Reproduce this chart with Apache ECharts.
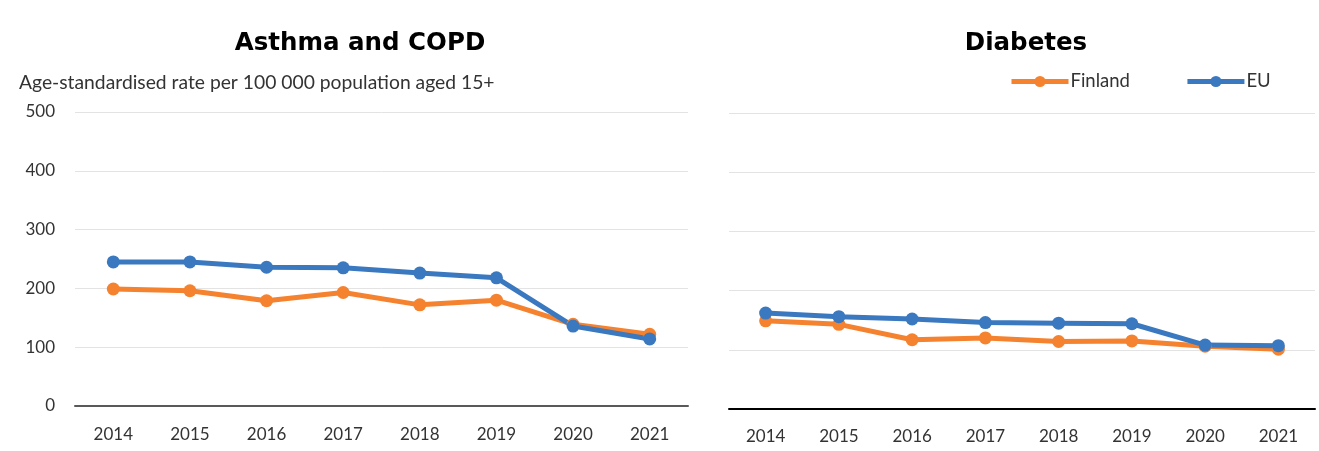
<!DOCTYPE html>
<html>
<head>
<meta charset="utf-8">
<script src="https://cdn.jsdelivr.net/npm/echarts@6/dist/echarts.min.js"></script>
<style>
  html, body { margin: 0; padding: 0; background: #fff; }
  #chart { width: 1319px; height: 451px; }
</style>
</head>
<body>
<div id="chart"></div>
<script>
var years = ['2014', '2015', '2016', '2017', '2018', '2019', '2020', '2021'];
var yTicks = [0, 100, 200, 300, 400, 500];

// Asthma and COPD
var copdFinland = [199, 196, 179, 193, 172, 180, 139, 122];
var copdEU = [245, 245, 236, 235, 226, 218, 136, 114];

// Diabetes
var diabFinland = [149, 143, 117, 120, 114, 115, 106, 101];
var diabEU = [162, 156, 152, 146, 145, 144, 108, 107];

var orange = '#F5822F';
var blue = '#3A78BF';
var font = 'Lato';
var titleFont = 'DejaVu Sans';

function line(name, color, data, xi) {
  return {
    name: name,
    type: 'line',
    xAxisIndex: xi,
    yAxisIndex: xi,
    data: data,
    symbol: 'circle',
    symbolSize: 13,
    lineStyle: { width: 5, color: color },
    itemStyle: { color: color },
    emphasis: { disabled: true },
    animation: false
  };
}

var chartDom = document.getElementById('chart');
var myChart = echarts.init(chartDom);
var option = {
  backgroundColor: '#fff',
  textStyle: { fontFamily: font },
  title: [{
    text: 'Asthma and COPD',
    left: 355, top: 26, textAlign: 'center',
    textStyle: { fontSize: 24.5, fontWeight: 'bold', color: '#000', fontFamily: titleFont }
  }, {
    text: 'Diabetes',
    left: 1021, top: 26, textAlign: 'center',
    textStyle: { fontSize: 24.5, fontWeight: 'bold', color: '#000', fontFamily: titleFont }
  }, {
    text: 'Age-standardised rate per 100 000 population aged 15+',
    left: 14, top: 68,
    textStyle: { fontSize: 19.3, fontWeight: 'normal', color: '#333', fontFamily: font }
  }],
  legend: {
    data: ['Finland', 'EU'],
    left: 1004, top: 67,
    itemWidth: 57, itemHeight: 14, itemGap: 55,
    lineStyle: { width: 5 },
    itemStyle: { borderWidth: 0 },
    textStyle: { fontSize: 18.5, color: '#333', fontFamily: font, padding: [0, 0, 0, -3] }
  },
  grid: [
    { left: 75, right: 1319 - 688, top: 112, height: 294 },
    { left: 729, right: 4, top: 113, height: 296 }
  ],
  xAxis: [0, 1].map(function (i) {
    return {
      type: 'category',
      gridIndex: i,
      data: years,
      boundaryGap: true,
      axisTick: { show: false },
      axisLine: { lineStyle: { color: i === 0 ? '#595959' : '#000', width: 2 } },
      axisLabel: { fontSize: 17, color: '#333', margin: i === 0 ? 20 : 19, fontFamily: font }
    };
  }),
  yAxis: [0, 1].map(function (i) {
    return {
      type: 'value',
      gridIndex: i,
      min: yTicks[0],
      max: yTicks[yTicks.length - 1],
      interval: 100,
      axisLine: { show: false },
      axisTick: { show: false },
      splitLine: { lineStyle: { color: '#e3e3e3', width: 1 } },
      axisLabel: { show: i === 0, fontSize: 17, color: '#333', margin: 20, fontFamily: font }
    };
  }),
  series: [
    line('Finland', orange, copdFinland, 0),
    line('EU', blue, copdEU, 0),
    line('Finland', orange, diabFinland, 1),
    line('EU', blue, diabEU, 1)
  ]
};
option && myChart.setOption(option);
</script>
</body>
</html>
